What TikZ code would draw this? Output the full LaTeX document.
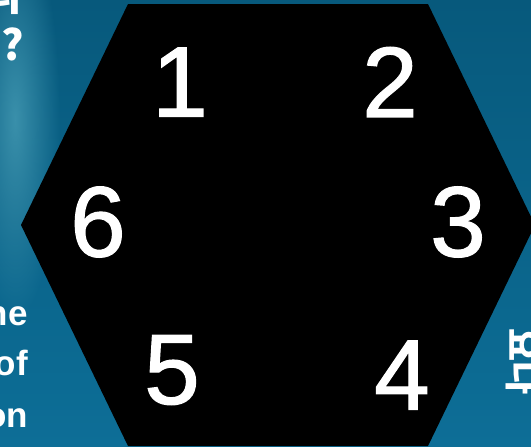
\documentclass[tikz,border=0pt]{standalone}
\usepackage{fontspec}
\setmainfont{Liberation Sans}
\newfontfamily\kofont{Noto Sans CJK KR}
\newfontfamily\digitfont[FakeBold=1.2]{Liberation Sans}
\usetikzlibrary{fadings}
\definecolor{bgtop}{HTML}{07597C}
\definecolor{bgbottom}{HTML}{0D6E97}
\definecolor{streak}{HTML}{3A90AB}
\tikzfading[name=glow, inner color=transparent!0, outer color=transparent!100]
\tikzset{
  digit/.style={text=white, font=\digitfont\fontsize{100}{100}\selectfont, inner sep=0pt},
  sidetext/.style={text=white, font=\bfseries\fontsize{35}{35}\selectfont, inner sep=0pt},
  kotext/.style={text=white, font=\kofont\bfseries\fontsize{42}{42}\selectfont, inner sep=0pt}
}
\begin{document}
\begin{tikzpicture}[x=1pt, y=-1pt]
  \useasboundingbox (0,0) rectangle (531,447);
  \clip (0,0) rectangle (531,447);
  % Background
  \shade[top color=bgtop, bottom color=bgbottom] (0,0) rectangle (531,447);
  \fill[streak, path fading=glow] (15,120) ellipse (45 and 200);
  % Cut-off texts at the edges
  \node[kotext, anchor=base east] (qa) at (22,10) {의};
  \node[kotext, anchor=base east] (qb) at (24,60) {가?};
  \foreach \t/\y [count=\i] in {he/325, of/375, on/427, no/478} {
    \node[sidetext, anchor=base east] (l\i) at (28,\y) {\t};
  }
  \node[kotext, font=\kofont\bfseries\fontsize{36}{36}\selectfont, rotate=-90, anchor=south west] (r1) at (506,328) {요다};
  % Hexagon
  \fill[black] (128,4) -- (428,4) -- (535,225) -- (428,446) -- (128,446) -- (21,225) -- cycle;
  % Numbers
  \foreach \n/\x/\y in {1/180/82, 2/390/82, 3/458/222, 4/402/375, 5/172/370, 6/98/222} {
    \node[digit] (n\n) at (\x,\y) {\n};
  }
\end{tikzpicture}
\end{document}
